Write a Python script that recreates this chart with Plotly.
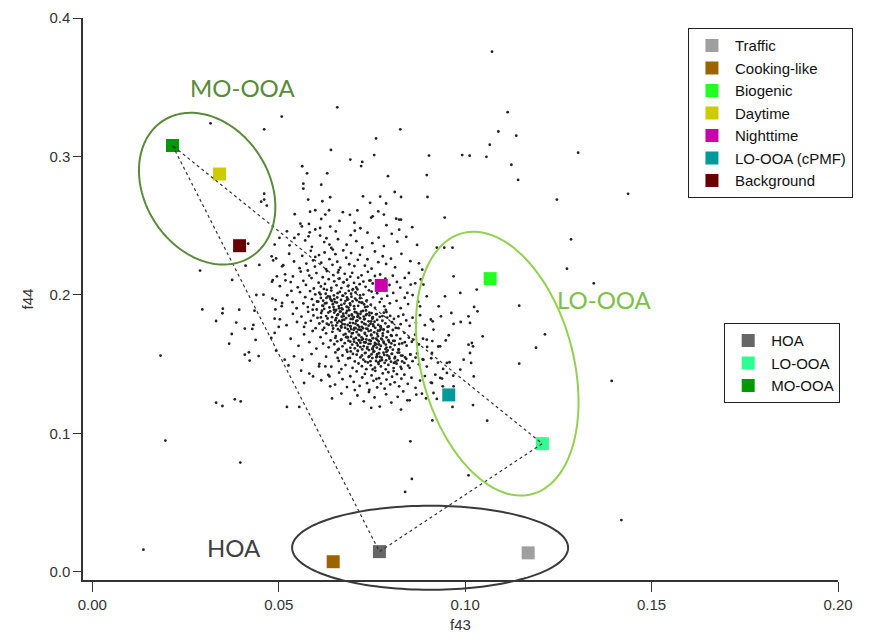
import numpy as np
import plotly.graph_objects as go

# ---------------- factor profiles ----------------
factor_names = ["Traffic", "Cooking-like", "Biogenic", "Daytime", "Nighttime", "LO-OOA (cPMF)", "Background"]
factor_f43 = [0.1169, 0.0646, 0.1067, 0.0341, 0.0775, 0.0956, 0.0395]
factor_f44 = [0.0136, 0.0072, 0.2117, 0.2873, 0.2068, 0.1277, 0.2355]
factor_colors = ["#9f9f9f", "#9c6400", "#22ff22", "#cccc00", "#cc00aa", "#009a9a", "#660000"]

pmf_names = ["HOA", "LO-OOA", "MO-OOA"]
pmf_f43 = [0.0770, 0.1207, 0.0215]
pmf_f44 = [0.0145, 0.0925, 0.3079]
pmf_colors = ["#666666", "#2eff90", "#009a00"]

x_ticks = [0.0, 0.05, 0.10, 0.15, 0.20]
y_ticks = [0.0, 0.1, 0.2, 0.3, 0.4]

# ---------------- ambient data cloud ----------------
outlier_pts = [
    (0.1072, 0.3757), (0.1114, 0.3320), (0.1089, 0.3180), (0.1137, 0.3150), (0.1066, 0.3085),
    (0.0992, 0.3010), (0.1012, 0.3005), (0.1057, 0.2997), (0.1124, 0.2940), (0.1142, 0.2830),
    (0.1303, 0.3027), (0.1246, 0.2688), (0.1437, 0.2730), (0.0826, 0.3196), (0.0761, 0.3130),
    (0.0756, 0.3010), (0.0903, 0.3006), (0.0692, 0.2977), (0.0724, 0.2960), (0.0721, 0.2930),
    (0.0793, 0.2857), (0.0897, 0.2865), (0.0726, 0.2712), (0.0772, 0.2710), (0.0811, 0.2743),
    (0.0828, 0.2707), (0.0899, 0.2707), (0.0745, 0.2665), (0.0788, 0.2660), (0.0711, 0.2610),
    (0.0767, 0.2603), (0.0782, 0.2580), (0.0748, 0.2558), (0.0815, 0.2550), (0.0945, 0.2558),
    (0.0657, 0.3355), (0.0508, 0.3288), (0.0461, 0.3196), (0.0317, 0.3239), (0.0640, 0.3047),
    (0.0563, 0.2929), (0.0576, 0.2878), (0.0630, 0.2878), (0.0566, 0.2803), (0.0614, 0.2796),
    (0.0566, 0.2767), (0.0461, 0.2731), (0.0453, 0.2673), (0.0468, 0.2645), (0.0461, 0.2688),
    (0.0579, 0.2688), (0.0617, 0.2676), (0.0638, 0.2705), (0.0584, 0.2601), (0.0598, 0.2611),
    (0.0635, 0.2611), (0.0625, 0.2580),
    (0.0289, 0.2175), (0.0418, 0.2370), (0.0295, 0.1895), (0.0350, 0.1900), (0.0349, 0.1867),
    (0.0394, 0.1893), (0.0332, 0.1811), (0.0386, 0.1800), (0.0374, 0.1717), (0.0367, 0.1647),
    (0.0409, 0.1756), (0.0429, 0.1754), (0.0432, 0.1783), (0.0435, 0.1886), (0.0438, 0.1674),
    (0.0409, 0.1568), (0.0420, 0.1585), (0.0422, 0.1525), (0.0446, 0.1558), (0.0183, 0.1561),
    (0.0332, 0.1221), (0.0349, 0.1197), (0.0382, 0.1245), (0.0398, 0.1230), (0.0375, 0.2108),
    (0.0411, 0.2211), (0.0448, 0.2216), (0.0489, 0.2363), (0.0481, 0.2278), (0.0485, 0.2249),
    (0.0509, 0.2206), (0.0459, 0.2001), (0.0440, 0.1999), (0.0482, 0.2095), (0.0495, 0.2134),
    (0.0518, 0.2105), (0.0509, 0.1941), (0.0483, 0.1973), (0.0491, 0.1895), (0.0489, 0.1828),
    (0.0500, 0.1768), (0.0489, 0.1725), (0.0480, 0.1689), (0.0493, 0.1597), (0.0522, 0.1190),
    (0.0555, 0.1190), (0.0526, 0.1490), (0.0516, 0.1532), (0.0541, 0.1556), (0.0560, 0.1452),
    (0.0568, 0.1363), (0.0582, 0.1431), (0.0592, 0.1411), (0.0608, 0.1483), (0.0638, 0.1339),
    (0.0636, 0.1411), (0.0625, 0.1483), (0.0658, 0.1544), (0.0542, 0.2411), (0.0580, 0.2423),
    (0.0611, 0.2483), (0.0636, 0.2363), (0.0558, 0.2514), (0.0522, 0.2459),
    (0.0137, 0.0159), (0.0196, 0.0947), (0.0397, 0.0788), (0.1393, 0.1378), (0.1284, 0.2401),
    (0.1273, 0.2189), (0.1345, 0.2083), (0.1419, 0.0373),
    (0.1145, 0.1922), (0.1214, 0.1715), (0.1190, 0.1618), (0.1145, 0.1503), (0.1047, 0.1700),
    (0.1059, 0.1091), (0.1021, 0.1204), (0.0966, 0.1190), (0.1009, 0.0696), (0.0853, 0.0942),
    (0.0857, 0.0670), (0.0839, 0.0576), (0.1023, 0.1411), (0.1016, 0.1508), (0.0996, 0.1532),
    (0.1009, 0.1640), (0.1021, 0.1628), (0.1013, 0.1797), (0.0969, 0.1790), (0.0988, 0.1804),
    (0.0935, 0.1845), (0.0929, 0.1917), (0.1033, 0.1881), (0.1024, 0.1913), (0.0956, 0.1708),
    (0.0948, 0.1671), (0.0958, 0.1513), (0.0941, 0.1465), (0.0938, 0.1395), (0.0924, 0.1248),
    (0.0912, 0.1093), (0.0845, 0.1238), (0.0884, 0.1286), (0.0828, 0.1171), (0.0911, 0.1363),
    (0.0895, 0.1252), (0.0968, 0.1416), (0.0920, 0.1423),
    (0.0828, 0.2543), (0.0823, 0.2471), (0.0924, 0.2341), (0.0944, 0.2341), (0.0966, 0.2341),
    (0.0885, 0.2182), (0.0969, 0.2134), (0.0987, 0.2014), (0.0946, 0.1989), (0.0963, 0.1869),
    (0.1031, 0.2038), (0.1009, 0.1845), (0.0897, 0.1989), (0.0888, 0.2074), (0.0854, 0.2074),
    (0.0845, 0.2014), (0.0879, 0.1917), (0.0913, 0.1809), (0.0915, 0.1749), (0.0897, 0.1676),
    (0.0933, 0.1628), (0.0911, 0.1580), (0.0888, 0.1532), (0.0951, 0.1436), (0.0933, 0.1400),
    (0.0940, 0.1339), (0.0915, 0.1291), (0.1018, 0.1652), (0.1013, 0.1580), (0.0987, 0.1460),
    (0.0969, 0.1339), (0.0951, 0.1508),
]

bandA_pts = [(0.0543, 0.2583), (0.0581, 0.2512), (0.0614, 0.2548), (0.0638, 0.2493), (0.0672, 0.2597),
             (0.0703, 0.2521), (0.0719, 0.2481), (0.0752, 0.2567), (0.0789, 0.2503), (0.0823, 0.2544),
             (0.0598, 0.2472), (0.0663, 0.2534), (0.0691, 0.2578), (0.0858, 0.2489), (0.0562, 0.2494)]
bandB_pts = [(0.0502, 0.2412), (0.0529, 0.2358), (0.0553, 0.2437), (0.0571, 0.2393), (0.0589, 0.2347),
             (0.0611, 0.2428), (0.0622, 0.2381), (0.0641, 0.2339), (0.0653, 0.2458), (0.0659, 0.2402),
             (0.0682, 0.2362), (0.0693, 0.2431), (0.0708, 0.2388), (0.0724, 0.2342), (0.0738, 0.2449),
             (0.0751, 0.2373), (0.0768, 0.2414), (0.0782, 0.2352), (0.0803, 0.2441), (0.0818, 0.2384),
             (0.0842, 0.2419), (0.0871, 0.2361), (0.0583, 0.2452), (0.0628, 0.2409), (0.0704, 0.2463)]

bandC_f43 = [0.0493, 0.0512, 0.0528, 0.0541, 0.0556, 0.0563, 0.0574, 0.0586, 0.0592, 0.0597,
             0.0608, 0.0614, 0.0623, 0.0627, 0.0636, 0.0644, 0.0652, 0.0657, 0.0665, 0.0673,
             0.0681, 0.0689, 0.0694, 0.0703, 0.0712, 0.0718, 0.0731, 0.0738, 0.0749, 0.0758,
             0.0767, 0.0779, 0.0788, 0.0801, 0.0812, 0.0829, 0.0853, 0.0876, 0.0598, 0.0645]
bandC_f44 = [0.2263, 0.2214, 0.2297, 0.2241, 0.2193, 0.2282, 0.2226, 0.2318, 0.2249, 0.2204,
             0.2287, 0.2232, 0.2306, 0.2186, 0.2258, 0.2217, 0.2294, 0.2239, 0.2197, 0.2321,
             0.2268, 0.2221, 0.2302, 0.2208, 0.2253, 0.2289, 0.2211, 0.2257, 0.2189, 0.2313,
             0.2236, 0.2279, 0.2223, 0.2261, 0.2199, 0.2296, 0.2243, 0.2228, 0.2274, 0.2327]

bandD_f43 = [0.0484, 0.0503, 0.0517, 0.0532, 0.0538, 0.0551, 0.0559, 0.0566, 0.0573, 0.0582,
             0.0588, 0.0594, 0.0601, 0.0607, 0.0613, 0.0618, 0.0624, 0.0629, 0.0634, 0.0641,
             0.0646, 0.0649, 0.0655, 0.0659, 0.0663, 0.0668, 0.0674, 0.0677, 0.0683, 0.0687,
             0.0692, 0.0697, 0.0702, 0.0708, 0.0713, 0.0717, 0.0722, 0.0727, 0.0733, 0.0739,
             0.0746, 0.0752, 0.0758, 0.0766, 0.0772, 0.0779, 0.0786, 0.0797, 0.0806, 0.0817,
             0.0826, 0.0838, 0.0849, 0.0866, 0.0881, 0.0578, 0.0621, 0.0661, 0.0699, 0.0743]
bandD_f44 = [0.2107, 0.2063, 0.2148, 0.2092, 0.2133, 0.2054, 0.2168, 0.2101, 0.2072, 0.2139,
             0.2121, 0.2046, 0.2157, 0.2088, 0.2061, 0.2127, 0.2079, 0.2172, 0.2113, 0.2051,
             0.2143, 0.2098, 0.2069, 0.2162, 0.2118, 0.2049, 0.2091, 0.2152, 0.2109, 0.2067,
             0.2131, 0.2159, 0.2086, 0.2053, 0.2124, 0.2077, 0.2141, 0.2096, 0.2058, 0.2166,
             0.2104, 0.2082, 0.2136, 0.2062, 0.2147, 0.2099, 0.2117, 0.2071, 0.2138, 0.2093,
             0.2052, 0.2122, 0.2158, 0.2083, 0.2112, 0.2176, 0.2043, 0.2179, 0.2041, 0.2103]

bandE_f43 = [0.0492, 0.0508, 0.0523, 0.0537, 0.0548, 0.0557, 0.0566, 0.0571, 0.0578, 0.0584,
             0.0589, 0.0593, 0.0598, 0.0602, 0.0606, 0.0609, 0.0613, 0.0617, 0.0619, 0.0622,
             0.0626, 0.0628, 0.0632, 0.0636, 0.0638, 0.0641, 0.0645, 0.0648, 0.0651, 0.0654,
             0.0657, 0.0661, 0.0664, 0.0667, 0.0669, 0.0673, 0.0676, 0.0679, 0.0682, 0.0686,
             0.0688, 0.0692, 0.0695, 0.0698, 0.0703, 0.0706, 0.0709, 0.0713, 0.0718, 0.0722,
             0.0727, 0.0732, 0.0736, 0.0742, 0.0747, 0.0753, 0.0758, 0.0764, 0.0771, 0.0776,
             0.0783, 0.0791, 0.0798, 0.0807, 0.0816, 0.0827, 0.0838, 0.0847, 0.0859, 0.0874,
             0.0534, 0.0591, 0.0629, 0.0671, 0.0711, 0.0749, 0.0787, 0.0643, 0.0684, 0.0724]
bandE_f44 = [0.1962, 0.1918, 0.1997, 0.1947, 0.1903, 0.2019, 0.1938, 0.1983, 0.1912, 0.2027,
             0.1969, 0.1927, 0.2003, 0.1894, 0.1951, 0.2016, 0.1978, 0.1922, 0.1958, 0.1899,
             0.2008, 0.1941, 0.1989, 0.1909, 0.1972, 0.2031, 0.1932, 0.1996, 0.1947, 0.1891,
             0.1981, 0.1919, 0.2022, 0.1963, 0.1902, 0.1993, 0.1937, 0.2011, 0.1914, 0.1968,
             0.2029, 0.1926, 0.1987, 0.1953, 0.1898, 0.2017, 0.1961, 0.1921, 0.1976, 0.1943,
             0.2002, 0.1911, 0.1959, 0.2033, 0.1929, 0.1982, 0.1906, 0.2012, 0.1948, 0.1971,
             0.1917, 0.1992, 0.1939, 0.2014, 0.1957, 0.1904, 0.1979, 0.1933, 0.1998, 0.1951,
             0.2028, 0.1893, 0.2036, 0.1896, 0.2039, 0.2024, 0.1892, 0.1955, 0.1966, 0.1944]

bandF_f43 = [0.0503, 0.0521, 0.0538, 0.0549, 0.0561, 0.0568, 0.0579, 0.0586, 0.0593, 0.0599,
             0.0604, 0.0609, 0.0614, 0.0618, 0.0622, 0.0627, 0.0631, 0.0634, 0.0638, 0.0641,
             0.0643, 0.0646, 0.0649, 0.0652, 0.0654, 0.0657, 0.0659, 0.0662, 0.0664, 0.0667,
             0.0669, 0.0671, 0.0673, 0.0676, 0.0678, 0.0681, 0.0683, 0.0685, 0.0688, 0.0691,
             0.0693, 0.0696, 0.0698, 0.0701, 0.0703, 0.0706, 0.0708, 0.0711, 0.0713, 0.0716,
             0.0718, 0.0721, 0.0723, 0.0726, 0.0728, 0.0731, 0.0733, 0.0736, 0.0738, 0.0741,
             0.0743, 0.0746, 0.0749, 0.0752, 0.0754, 0.0757, 0.0761, 0.0764, 0.0767, 0.0771,
             0.0774, 0.0778, 0.0782, 0.0786, 0.0791, 0.0795, 0.0799, 0.0804, 0.0809, 0.0814,
             0.0821, 0.0827, 0.0834, 0.0842, 0.0851, 0.0859, 0.0868, 0.0879, 0.0892, 0.0908,
             0.0572, 0.0613, 0.0652, 0.0694, 0.0734, 0.0773, 0.0668, 0.0712, 0.0751, 0.0789]
bandF_f44 = [0.1823, 0.1781, 0.1862, 0.1804, 0.1843, 0.1768, 0.1877, 0.1812, 0.1851, 0.1759,
             0.1834, 0.1793, 0.1869, 0.1808, 0.1762, 0.1847, 0.1829, 0.1784, 0.1881, 0.1801,
             0.1839, 0.1757, 0.1872, 0.1817, 0.1779, 0.1853, 0.1752, 0.1811, 0.1878, 0.1773,
             0.1842, 0.1789, 0.1864, 0.1821, 0.1763, 0.1832, 0.1884, 0.1782, 0.1849, 0.1798,
             0.1771, 0.1858, 0.1824, 0.1838, 0.1761, 0.1792, 0.1873, 0.1814, 0.1846, 0.1769,
             0.1831, 0.1879, 0.1803, 0.1758, 0.1843, 0.1826, 0.1786, 0.1861, 0.1754, 0.1809,
             0.1852, 0.1791, 0.1868, 0.1833, 0.1774, 0.1806, 0.1859, 0.1819, 0.1783, 0.1841,
             0.1764, 0.1813, 0.1871, 0.1794, 0.1836, 0.1772, 0.1848, 0.1802, 0.1827, 0.1761,
             0.1844, 0.1788, 0.1857, 0.1815, 0.1776, 0.1835, 0.1799, 0.1853, 0.1781, 0.1822,
             0.1797, 0.1837, 0.1886, 0.1753, 0.1887, 0.1751, 0.1805, 0.1863, 0.1828, 0.1876]

bandG_f43 = [0.0532, 0.0553, 0.0568, 0.0582, 0.0591, 0.0601, 0.0612, 0.0619, 0.0627, 0.0634,
             0.0639, 0.0644, 0.0649, 0.0653, 0.0657, 0.0661, 0.0664, 0.0668, 0.0671, 0.0674,
             0.0677, 0.0679, 0.0682, 0.0685, 0.0687, 0.0689, 0.0692, 0.0694, 0.0697, 0.0699,
             0.0702, 0.0704, 0.0707, 0.0709, 0.0712, 0.0714, 0.0716, 0.0719, 0.0721, 0.0724,
             0.0726, 0.0728, 0.0731, 0.0733, 0.0736, 0.0738, 0.0741, 0.0743, 0.0746, 0.0748,
             0.0751, 0.0753, 0.0756, 0.0758, 0.0761, 0.0763, 0.0766, 0.0768, 0.0771, 0.0774,
             0.0777, 0.0779, 0.0782, 0.0786, 0.0789, 0.0792, 0.0796, 0.0799, 0.0803, 0.0807,
             0.0811, 0.0816, 0.0821, 0.0826, 0.0831, 0.0837, 0.0843, 0.0849, 0.0857, 0.0866,
             0.0876, 0.0887, 0.0898, 0.0912, 0.0928, 0.0618, 0.0658, 0.0701, 0.0742, 0.0781,
             0.0822, 0.0861, 0.0683, 0.0723, 0.0762, 0.0801, 0.0713, 0.0752, 0.0793, 0.0732]
bandG_f44 = [0.1683, 0.1632, 0.1714, 0.1658, 0.1739, 0.1612, 0.1694, 0.1648, 0.1722, 0.1621,
             0.1671, 0.1733, 0.1643, 0.1702, 0.1664, 0.1609, 0.1741, 0.1679, 0.1628, 0.1711,
             0.1651, 0.1718, 0.1603, 0.1692, 0.1669, 0.1736, 0.1617, 0.1698, 0.1641, 0.1724,
             0.1662, 0.1614, 0.1689, 0.1731, 0.1634, 0.1673, 0.1707, 0.1654, 0.1743, 0.1606,
             0.1681, 0.1629, 0.1719, 0.1657, 0.1704, 0.1623, 0.1738, 0.1672, 0.1646, 0.1713,
             0.1611, 0.1687, 0.1729, 0.1638, 0.1684, 0.1619, 0.1701, 0.1663, 0.1742, 0.1631,
             0.1678, 0.1721, 0.1652, 0.1608, 0.1693, 0.1734, 0.1659, 0.1622, 0.1703, 0.1668,
             0.1637, 0.1709, 0.1604, 0.1682, 0.1649, 0.1726, 0.1633, 0.1691, 0.1661, 0.1712,
             0.1642, 0.1683, 0.1624, 0.1666, 0.1627, 0.1747, 0.1602, 0.1748, 0.1601, 0.1746,
             0.1605, 0.1677, 0.1697, 0.1674, 0.1644, 0.1708, 0.1749, 0.1607, 0.1732, 0.1656]

bandH_f43 = [0.0563, 0.0588, 0.0609, 0.0627, 0.0641, 0.0652, 0.0661, 0.0671, 0.0679, 0.0686,
             0.0693, 0.0698, 0.0704, 0.0709, 0.0714, 0.0719, 0.0723, 0.0727, 0.0731, 0.0735,
             0.0739, 0.0743, 0.0747, 0.0751, 0.0754, 0.0758, 0.0761, 0.0764, 0.0768, 0.0771,
             0.0774, 0.0777, 0.0781, 0.0784, 0.0787, 0.0791, 0.0794, 0.0797, 0.0801, 0.0804,
             0.0808, 0.0812, 0.0816, 0.0819, 0.0823, 0.0827, 0.0832, 0.0837, 0.0842, 0.0847,
             0.0853, 0.0859, 0.0867, 0.0876, 0.0886, 0.0897, 0.0909, 0.0927, 0.0668, 0.0712,
             0.0752, 0.0792, 0.0829, 0.0871, 0.0732, 0.0772, 0.0813, 0.0691, 0.0851, 0.0762]
bandH_f44 = [0.1531, 0.1572, 0.1502, 0.1553, 0.1481, 0.1584, 0.1523, 0.1562, 0.1493, 0.1541,
             0.1591, 0.1472, 0.1519, 0.1568, 0.1504, 0.1548, 0.1484, 0.1532, 0.1579, 0.1463,
             0.1512, 0.1557, 0.1491, 0.1543, 0.1588, 0.1474, 0.1522, 0.1571, 0.1501, 0.1552,
             0.1483, 0.1529, 0.1582, 0.1509, 0.1462, 0.1563, 0.1494, 0.1539, 0.1517, 0.1574,
             0.1471, 0.1551, 0.1503, 0.1527, 0.1583, 0.1479, 0.1561, 0.1508, 0.1538, 0.1489,
             0.1569, 0.1521, 0.1547, 0.1498, 0.1533, 0.1482, 0.1542, 0.1511, 0.1464, 0.1597,
             0.1461, 0.1598, 0.1466, 0.1577, 0.1518, 0.1524, 0.1516, 0.1544, 0.1473, 0.1549]

bandI_f43 = [0.0614, 0.0633, 0.0651, 0.0662, 0.0671, 0.0683, 0.0692, 0.0701, 0.0709, 0.0717,
             0.0724, 0.0731, 0.0737, 0.0743, 0.0749, 0.0754, 0.0759, 0.0764, 0.0769, 0.0774,
             0.0779, 0.0784, 0.0789, 0.0794, 0.0799, 0.0804, 0.0811, 0.0817, 0.0823, 0.0829,
             0.0837, 0.0846, 0.0856, 0.0867, 0.0879, 0.0892, 0.0908, 0.0704, 0.0762, 0.0808]
bandI_f44 = [0.1383, 0.1421, 0.1352, 0.1438, 0.1391, 0.1334, 0.1412, 0.1371, 0.1447, 0.1342,
             0.1403, 0.1429, 0.1362, 0.1314, 0.1418, 0.1379, 0.1451, 0.1331, 0.1398, 0.1359,
             0.1432, 0.1322, 0.1388, 0.1441, 0.1353, 0.1409, 0.1368, 0.1427, 0.1339, 0.1394,
             0.1423, 0.1357, 0.1401, 0.1328, 0.1381, 0.1413, 0.1366, 0.1312, 0.1392, 0.1449]

bandJ_f43 = [0.0643, 0.0668, 0.0692, 0.0711, 0.0728, 0.0742, 0.0757, 0.0771, 0.0788, 0.0802,
             0.0819, 0.0834, 0.0851, 0.0869, 0.0748]
bandJ_f44 = [0.1252, 0.1287, 0.1214, 0.1273, 0.1231, 0.1298, 0.1259, 0.1193, 0.1281, 0.1222,
             0.1263, 0.1302, 0.1238, 0.1279, 0.1184]

dense_pts = [
    (0.0612, 0.2004), (0.0637, 0.1987), (0.0658, 0.2012), (0.0671, 0.1994), (0.0694, 0.2008),
    (0.0628, 0.1978), (0.0649, 0.1969), (0.0683, 0.1981), (0.0705, 0.1973), (0.0718, 0.1996),
    (0.0603, 0.1952), (0.0624, 0.1938), (0.0641, 0.1961), (0.0656, 0.1944), (0.0668, 0.1927),
    (0.0679, 0.1955), (0.0691, 0.1939), (0.0702, 0.1918), (0.0716, 0.1948), (0.0729, 0.1931),
    (0.0647, 0.1912), (0.0662, 0.1903), (0.0687, 0.1908), (0.0738, 0.1915), (0.0619, 0.1921),
    (0.0616, 0.1886), (0.0633, 0.1872), (0.0648, 0.1893), (0.0659, 0.1858), (0.0666, 0.1879),
    (0.0674, 0.1846), (0.0681, 0.1868), (0.0689, 0.1889), (0.0696, 0.1851), (0.0704, 0.1876),
    (0.0711, 0.1842), (0.0719, 0.1863), (0.0726, 0.1884), (0.0734, 0.1854), (0.0743, 0.1871),
    (0.0752, 0.1839), (0.0763, 0.1861), (0.0778, 0.1847), (0.0654, 0.1831), (0.0671, 0.1819),
    (0.0693, 0.1826), (0.0708, 0.1811), (0.0729, 0.1823), (0.0748, 0.1808),
    (0.0629, 0.1792), (0.0644, 0.1778), (0.0657, 0.1799), (0.0668, 0.1764), (0.0677, 0.1787),
    (0.0685, 0.1753), (0.0692, 0.1774), (0.0699, 0.1796), (0.0706, 0.1759), (0.0712, 0.1781),
    (0.0718, 0.1748), (0.0723, 0.1769), (0.0729, 0.1792), (0.0735, 0.1756), (0.0741, 0.1777),
    (0.0747, 0.1743), (0.0753, 0.1786), (0.0759, 0.1762), (0.0766, 0.1741), (0.0773, 0.1773),
    (0.0781, 0.1751), (0.0792, 0.1768), (0.0806, 0.1746), (0.0821, 0.1759), (0.0696, 0.1721),
    (0.0714, 0.1712), (0.0731, 0.1726), (0.0748, 0.1708), (0.0764, 0.1719), (0.0779, 0.1704),
    (0.0652, 0.1689), (0.0667, 0.1673), (0.0681, 0.1694), (0.0692, 0.1662), (0.0701, 0.1681),
    (0.0709, 0.1651), (0.0716, 0.1671), (0.0722, 0.1693), (0.0729, 0.1657), (0.0735, 0.1678),
    (0.0741, 0.1646), (0.0747, 0.1667), (0.0752, 0.1688), (0.0758, 0.1653), (0.0764, 0.1674),
    (0.0769, 0.1642), (0.0775, 0.1684), (0.0781, 0.1661), (0.0787, 0.1641), (0.0794, 0.1672),
    (0.0802, 0.1649), (0.0811, 0.1668), (0.0823, 0.1645), (0.0838, 0.1658), (0.0719, 0.1623),
    (0.0737, 0.1612), (0.0754, 0.1627), (0.0771, 0.1608), (0.0789, 0.1619), (0.0806, 0.1604),
    (0.0684, 0.1589), (0.0699, 0.1573), (0.0712, 0.1594), (0.0723, 0.1562), (0.0733, 0.1581),
    (0.0741, 0.1551), (0.0749, 0.1571), (0.0756, 0.1592), (0.0763, 0.1557), (0.0769, 0.1578),
    (0.0776, 0.1546), (0.0783, 0.1567), (0.0789, 0.1588), (0.0796, 0.1553), (0.0803, 0.1574),
    (0.0811, 0.1542), (0.0819, 0.1583), (0.0828, 0.1561), (0.0839, 0.1548), (0.0853, 0.1569),
    (0.0746, 0.1521), (0.0767, 0.1512), (0.0788, 0.1527), (0.0809, 0.1508), (0.0831, 0.1519),
]

# ---------------- build cloud ----------------
cloud = list(outlier_pts) + list(bandA_pts) + list(bandB_pts) + list(dense_pts)
for bx, by in [(bandC_f43, bandC_f44), (bandD_f43, bandD_f44), (bandE_f43, bandE_f44),
               (bandF_f43, bandF_f44), (bandG_f43, bandG_f44), (bandH_f43, bandH_f44),
               (bandI_f43, bandI_f44), (bandJ_f43, bandJ_f44)]:
    cloud += list(zip(bx, by))
cloud_x = [p[0] for p in cloud]
cloud_y = [p[1] for p in cloud]

# ---------------- layout geometry ----------------
# page body has an 8px default margin, so the figure is 16px smaller than the window
FIG_W, FIG_H = 857, 625
X0, X1 = -0.0025, 0.2
Y0, Y1 = -0.006, 0.4
ML, MR, MT, MB = 75, 27, 10, 53
W = FIG_W - ML - MR
H = FIG_H - MT - MB


def ellipse_path(cx, cy, a_px, b_px, ang_deg, n=160):
    t = np.linspace(0, 2 * np.pi, n)
    th = np.deg2rad(ang_deg)
    dx = a_px * np.cos(t) * np.cos(th) - b_px * np.sin(t) * np.sin(th)
    dy = a_px * np.cos(t) * np.sin(th) + b_px * np.sin(t) * np.cos(th)
    fx = (cx - X0) / (X1 - X0) + dx / W
    fy = (cy - Y0) / (Y1 - Y0) + dy / H
    pts = ["%s%.5f,%.5f" % ("M" if i == 0 else "L", fx[i], fy[i]) for i in range(n)]
    return " ".join(pts) + " Z"


FONT = "Liberation Sans, Arial, sans-serif"
fig = go.Figure()

fig.add_trace(go.Scatter(x=cloud_x, y=cloud_y, mode="markers",
                         marker=dict(size=2.8, color="#222222"),
                         showlegend=False, hoverinfo="skip"))

for name, fx, fy, c in zip(factor_names, factor_f43, factor_f44, factor_colors):
    fig.add_trace(go.Scatter(x=[fx], y=[fy], mode="markers", name=name,
                             marker=dict(symbol="square", size=13, color=c, line=dict(width=0)),
                             legend="legend"))
for name, fx, fy, c in zip(pmf_names, pmf_f43, pmf_f44, pmf_colors):
    fig.add_trace(go.Scatter(x=[fx], y=[fy], mode="markers", name=name,
                             marker=dict(symbol="square", size=13, color=c, line=dict(width=0)),
                             legend="legend2"))

# triangle connecting PMF factors
tri_idx = [2, 0, 1, 2]
fig.add_trace(go.Scatter(x=[pmf_f43[i] for i in tri_idx], y=[pmf_f44[i] for i in tri_idx],
                         mode="lines", line=dict(color="#333333", width=1.2, dash="dot"),
                         showlegend=False, hoverinfo="skip"))

shapes = [
    dict(type="path", xref="x domain", yref="y domain",
         path=ellipse_path(0.0308, 0.2767, 81, 62, -57),
         line=dict(color="#5a8a3c", width=2)),
    dict(type="path", xref="x domain", yref="y domain",
         path=ellipse_path(0.1086, 0.1503, 135, 76, -75),
         line=dict(color="#92d050", width=2)),
    dict(type="path", xref="x domain", yref="y domain",
         path=ellipse_path(0.0906, 0.0173, 138, 42, 0),
         line=dict(color="#3a3a3a", width=2)),
]

annotations = [
    dict(x=0.0402, y=0.3497, xref="x", yref="y", text="MO-OOA", showarrow=False,
         font=dict(family="Lato, Open Sans, sans-serif", size=24, color="#5a8a3c")),
    dict(x=0.1375, y=0.1965, xref="x", yref="y", text="LO-OOA", showarrow=False,
         font=dict(family="Lato, Open Sans, sans-serif", size=24, color="#7cc04a")),
    dict(x=0.0381, y=0.0173, xref="x", yref="y", text="HOA", showarrow=False,
         font=dict(family="Lato, Open Sans, sans-serif", size=24, color="#404040")),
]

axis_common = dict(showgrid=False, zeroline=False, showline=True, linecolor="#333333",
                   linewidth=1.5, ticks="outside", tickcolor="#333333", tickwidth=1.3,
                   tickfont=dict(family=FONT, size=15, color="#333333"))

legend_common = dict(xanchor="left", yanchor="top", bgcolor="white",
                     bordercolor="#222222", borderwidth=1.2, tracegroupgap=0, itemwidth=36,
                     font=dict(family=FONT, size=15, color="#111111"))

fig.update_layout(
    width=FIG_W, height=FIG_H,
    margin=dict(l=ML, r=MR, t=MT, b=MB, autoexpand=False),
    paper_bgcolor="white", plot_bgcolor="white",
    xaxis=dict(range=[X0, X1], tickvals=x_ticks, ticktext=["%.2f" % v for v in x_ticks],
               ticklen=10, automargin=True,
               title=dict(text="f43", font=dict(family=FONT, size=15, color="#333333"),
                          standoff=12), **axis_common),
    yaxis=dict(range=[Y0, Y1], tickvals=y_ticks, ticktext=["%.1f" % v for v in y_ticks],
               ticklen=8, automargin=False,
               title=dict(text="f44", font=dict(family=FONT, size=15, color="#333333"),
                          standoff=12), **axis_common),
    legend=dict(x=0.801, y=0.982, **legend_common),
    legend2=dict(x=0.849, y=0.457, **legend_common),
    shapes=shapes,
    annotations=annotations,
    showlegend=True,
)

fig.write_html("out.html")
